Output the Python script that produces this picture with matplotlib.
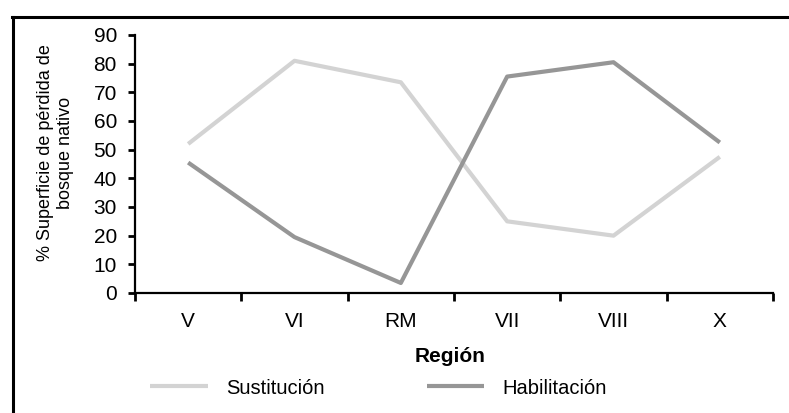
import matplotlib.pyplot as plt
from matplotlib.lines import Line2D

regiones = ["V", "VI", "RM", "VII", "VIII", "X"]
sustitucion = [52, 81, 73.5, 25, 20, 47.5]
habilitacion = [45.5, 19.5, 3.5, 75.5, 80.5, 52.5]

plt.rcParams['font.family'] = ['Liberation Sans', 'DejaVu Sans']

W, H = 789, 413
fig = plt.figure(figsize=(W / 100, H / 100), dpi=100)
ax = fig.add_axes([135/W, 1 - 293/H, 638/W, 258/H])

x = [i + 0.5 for i in range(len(regiones))]
ax.plot(x, sustitucion, color='#d3d3d3', lw=3, label='Sustitución', solid_capstyle='butt')
ax.plot(x, habilitacion, color='#969696', lw=3, label='Habilitación', solid_capstyle='butt')

ax.set_xlim(0, len(regiones))
ax.set_ylim(0, 90)
ax.set_yticks(range(0, 91, 10))
ax.set_xticks(range(len(regiones) + 1))
ax.set_xticklabels([])
ax.set_xticks(x, minor=True)
ax.set_xticklabels(regiones, minor=True, fontsize=15)
ax.tick_params(axis='x', which='major', direction='out', length=6, width=2)
ax.tick_params(axis='x', which='minor', length=0, pad=14)
ax.tick_params(axis='y', direction='out', length=5, width=2, pad=8, labelsize=15)

for s in ['top', 'right']:
    ax.spines[s].set_visible(False)
for s in ['left', 'bottom']:
    ax.spines[s].set_linewidth(1.6)

fig.text(55.5/W, 1 - 153/H, "% Superficie de pérdida de\nbosque nativo",
         rotation=90, ha='center', va='center', multialignment='center',
         fontsize=13, linespacing=1.3)
fig.text(450/W, 1 - 357/H, "Región", ha='center', va='center',
         fontsize=15, fontweight='bold')

fig.legend(loc='center', bbox_to_anchor=(378.5/W, 1 - 388/H), ncol=2,
           frameon=False, fontsize=14.5, handlelength=2.85, handletextpad=0.9,
           columnspacing=5.1, borderpad=0, borderaxespad=0)

# marco exterior (solo se ven los bordes izquierdo y superior)
fig.add_artist(Line2D([12.5/W, 12.5/W], [0, 1 - 16.5/H], color='black', lw=2.2,
                      transform=fig.transFigure))
fig.add_artist(Line2D([11.5/W, 1], [1 - 16.5/H, 1 - 16.5/H], color='black', lw=2.2,
                      transform=fig.transFigure))

fig.savefig('out.png', dpi=100)
